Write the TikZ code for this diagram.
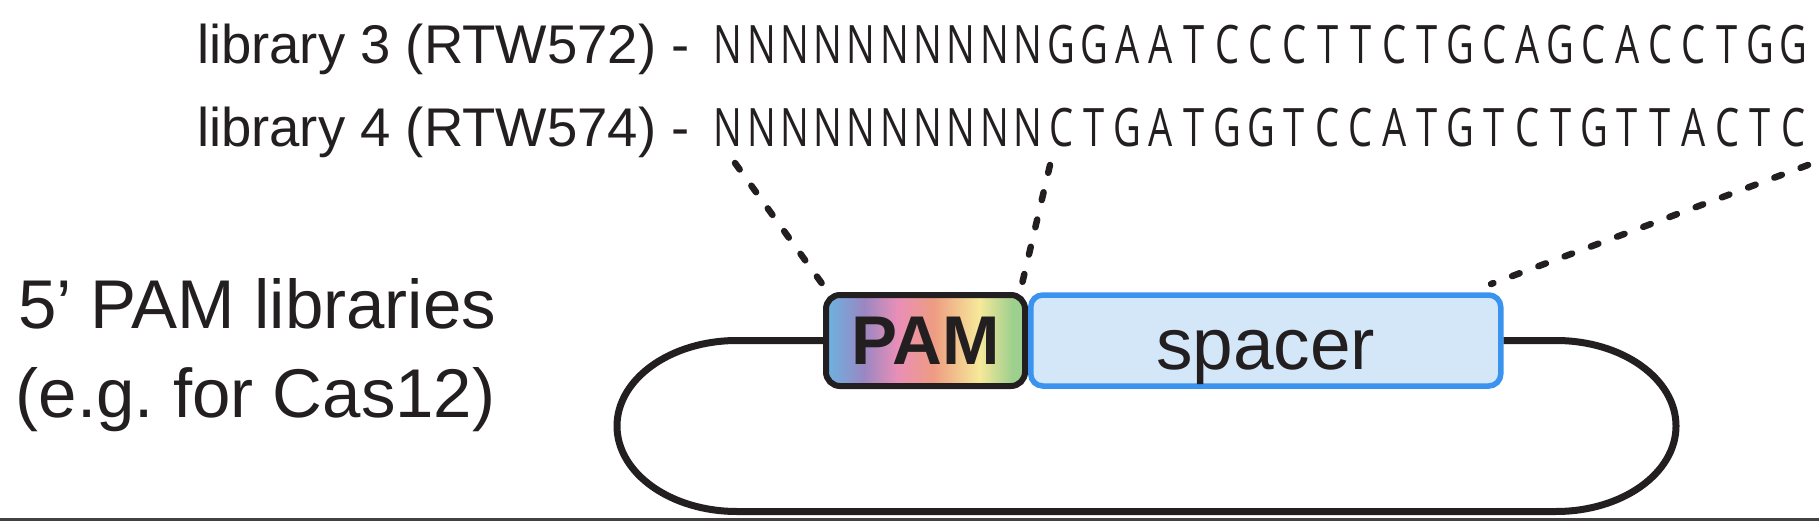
\documentclass[tikz,border=0pt]{standalone}
\usepackage{fontspec}
\setmainfont{Liberation Sans}
\newfontfamily\seqfont[FakeStretch=0.72]{Open Sans}
\definecolor{ink}{HTML}{231F20}
\definecolor{spfill}{HTML}{D4E7F9}
\definecolor{spline}{HTML}{3A93EE}
\definecolor{gblue}{HTML}{6AB4E1}
\definecolor{gpurple}{HTML}{9A87C2}
\definecolor{gpink}{HTML}{E98FB7}
\definecolor{gsalmon}{HTML}{EE9C82}
\definecolor{gyellow}{HTML}{F6E99A}
\definecolor{ggreen}{HTML}{9DCF8E}
\pgfdeclarehorizontalshading{pamgrad}{100bp}{color(0bp)=(gblue); color(25bp)=(gblue); color(34.5bp)=(gpurple); color(43bp)=(gpink); color(52bp)=(gsalmon); color(63.5bp)=(gyellow); color(72bp)=(ggreen); color(75bp)=(ggreen); color(100bp)=(ggreen)}
\newcommand\sqbox[1]{\sqloop#1\relax}
\def\sqloop#1{\ifx#1\relax\else\makebox[33.3pt]{#1}\expandafter\sqloop\fi}
\frenchspacing
\begin{document}
\begin{tikzpicture}[x=1pt,y=-1pt,
  every node/.style={inner sep=0pt, outer sep=0pt, text=ink},
  lib/.style={font=\fontsize{54.5}{60}\selectfont},
  seq/.style={font=\seqfont\fontsize{53}{60}\selectfont},
  big/.style={font=\fontsize{69}{75}\selectfont},
  pambox/.style={shade, shading=pamgrad, draw=ink, line width=6pt, outer sep=3pt,
    rounded corners=14pt, minimum width=199pt, minimum height=91pt,
    font=\bfseries\fontsize{69}{70}\selectfont},
  spbox/.style={fill=spfill, draw=spline, line width=5.5pt, outer sep=2.75pt,
    rounded corners=12pt, minimum width=470pt, minimum height=91pt,
    text height=57pt, text depth=0pt, font=\fontsize{73}{80}\selectfont},
  loopline/.style={draw=ink, line width=7pt},
  dotline/.style={draw=ink, line width=6.5pt, line cap=round, dash pattern=on 8pt off 20pt},
  edge/.style={draw=ink!85, line width=2.5pt}]
\useasboundingbox (0,0) rectangle (1819,521);
% texts
\node[lib, anchor=base west] (l3) at (197,63.5) {library 3 (RTW572) -};
\node[seq, anchor=base west] (s3) at (711.5,63.5) {\sqbox{NNNNNNNNNNGGAATCCCTTCTGCAGCACCTGG}};
\node[lib, anchor=base west] (l4) at (197,147) {library 4 (RTW574) -};
\node[seq, anchor=base west] (s4) at (711.5,147) {\sqbox{NNNNNNNNNNCTGATGGTCCATGTCTGTTACTC}};
\node[big, anchor=base west] (t1) at (18,328) {5’ PAM libraries};
\node[big, anchor=base west] (t2) at (16,417) {(e.g. for Cas12)};
% boxes
\node[pambox] (pam) at (925.5,340.5) {PAM};
\node[spbox, anchor=west] (sp) at (pam.east) {spacer};
% loop
\draw[loopline] (pam.west) -- (737,340.5)
  arc[start angle=90, end angle=180, x radius=120pt, y radius=85.5pt]
  arc[start angle=180, end angle=270, x radius=120pt, y radius=85.5pt]
  -- (1556,511.5)
  arc[start angle=270, end angle=360, x radius=120pt, y radius=85.5pt]
  arc[start angle=0, end angle=90, x radius=120pt, y radius=85.5pt]
  -- (sp.east);
% dotted connectors
\coordinate (a1) at (735,163);
\coordinate (b1) at (823,285);
\coordinate (a2) at (1050,165);
\coordinate (b2) at (1022,284);
\coordinate (a3) at (1808,165);
\coordinate (b3) at (1491,284);
\draw[dotline] (a1) -- (b1);
\draw[dotline] (a2) -- (b2);
\draw[dotline] (a3) -- (b3);
% bottom edge line
\coordinate (e1) at (0,519.5);
\coordinate (e2) at (1819,519.5);
\draw[edge] (e1) -- (e2);
\end{tikzpicture}
\end{document}
